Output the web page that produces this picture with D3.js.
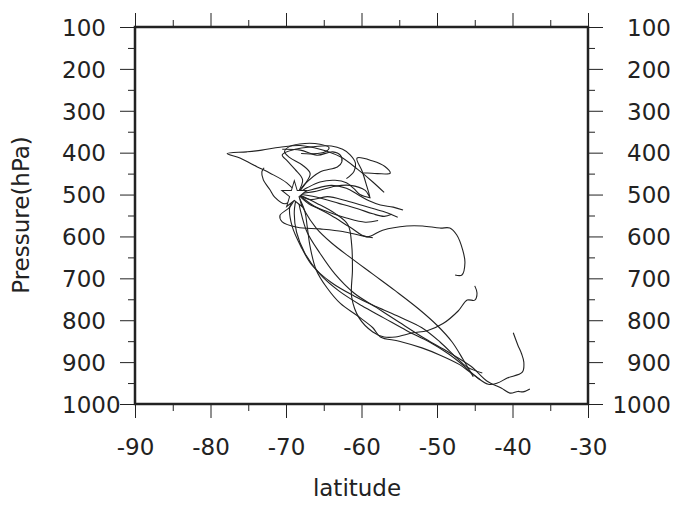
<!DOCTYPE html>
<html lang="en">
<head>
    <meta charset="UTF-8">
    <title>Trajectories</title>
    <script src="https://d3js.org/d3.v7.min.js"></script>
    <style>
        body {
            margin: 0;
            padding: 0;
            background: #fff;
        }
        svg {
            display: block;
            font-family: 'DejaVu Sans', sans-serif;
        }
        .traj {
            fill: none;
            stroke: #222;
            stroke-width: 1.1px;
        }
        .axis path, .axis line {
            stroke: #222;
        }
        .axis text {
            font-family: 'DejaVu Sans', sans-serif;
            font-size: 23px;
            fill: #222;
        }
    </style>
</head>
<body>
<svg width="677" height="505"></svg>
<script>
    // ticks
    var latTicks = [-90, -80, -70, -60, -50, -40, -30];
    var presTicks = [100, 200, 300, 400, 500, 600, 700, 800, 900, 1000];

    // start point (star)
    var origin = [-68.9, 501];

    // trajectories, [latitude, pressure] pairs
    var traj01 = [[-68.5,498],[-68.1,537],[-67.2,590],[-65.5,640],[-63.5,690],[-61,735],[-58,770],[-55,805],[-51.5,845],[-48.5,876],[-45.5,910],[-43.4,945],[-41.5,962],[-40.3,974],[-39.3,970],[-38.6,971],[-37.7,964]];
    var traj02 = [[-68.5,498],[-68.9,540],[-68.6,590],[-67.5,640],[-65.5,690],[-63,730],[-60,765],[-57,795],[-54,825],[-51,852],[-48.5,880],[-46.5,908],[-45,932],[-43.2,953],[-42,950],[-40.7,938],[-38.7,924],[-38.5,900],[-38.8,880],[-39.3,859],[-39.9,830]];
    var traj03 = [[-68.5,498],[-69.5,530],[-69.2,575],[-68,625],[-66.5,670],[-64,710],[-61,742],[-58,768],[-55,792],[-52,818],[-49.6,852],[-47.4,890],[-46,912],[-44,926]];
    var traj04 = [[-68.5,498],[-67.5,540],[-66,580],[-64,615],[-61.5,650],[-58.5,690],[-55.5,730],[-52.5,772],[-50,812],[-48,852],[-46.5,895],[-45.2,935]];
    var traj05 = [[-68.5,498],[-66,520],[-63.5,545],[-61.8,572],[-61.3,620],[-61.2,680],[-61.3,745],[-60.3,795],[-58.5,828],[-57,840],[-55.5,840],[-53.2,830],[-51.3,825],[-49.2,808],[-47.2,778],[-46,752],[-45,752],[-44.7,735],[-45,718]];
    var traj06 = [[-68.5,498],[-66.5,525],[-64,550],[-61.5,578],[-59.3,601],[-57.2,585],[-54,575],[-51.9,575],[-49.6,580],[-48.3,580],[-47.4,596],[-46.6,632],[-46.3,663],[-46.7,692],[-47.6,692]];
    var traj07 = [[-68.5,498],[-67.5,540],[-67.2,575],[-66.8,625],[-66,680],[-64.6,722],[-62.8,760],[-60.5,790],[-58.5,818],[-57.5,840],[-55,850],[-52,866],[-49.5,884],[-47,906],[-45.5,926],[-44.3,942]];
    var traj08 = [[-68.5,498],[-69.9,472],[-72.1,449],[-73.8,434],[-76.1,413],[-77.8,402],[-75.2,398],[-73.2,394],[-70.8,387],[-68.1,383],[-65.5,392],[-62.8,410],[-60.5,440],[-58.5,470],[-57,495]];
    var traj09 = [[-68.5,498],[-67.5,475],[-66.8,450],[-67.8,430],[-69.5,412],[-70.2,398],[-69.5,385],[-67.5,378],[-65.5,380],[-64.3,388],[-64.8,398],[-66.5,403],[-68,402]];
    var traj10 = [[-68.5,498],[-66,492],[-63.5,480],[-61.5,478],[-59.5,490],[-58.9,506],[-59.3,480],[-59.9,445],[-60.6,413],[-58.5,420],[-56.9,433],[-56.2,449],[-57.9,450],[-59.8,448]];
    var traj11 = [[-68.5,498],[-66.8,512],[-64.5,505],[-62,515],[-59.5,528],[-57.2,540],[-55.2,554]];
    var traj12 = [[-68.5,498],[-67.5,475],[-65.5,446],[-63.2,434],[-62.6,422],[-62.8,406],[-63.8,398],[-65.9,406],[-68.1,394],[-70.5,392]];
    var traj13 = [[-68.5,498],[-70.1,522],[-71.5,506],[-72.1,489],[-73,465],[-73.2,446],[-72.9,436]];
    var traj14 = [[-68.5,498],[-69.5,530],[-70.8,550],[-70.5,565],[-68.5,578],[-65.5,582],[-62.5,588],[-60,598],[-58.5,603]];
    var traj15 = [[-68.5,498],[-66.5,488],[-64,478],[-62,485],[-60.5,500],[-59,515],[-57.5,525],[-55.8,530],[-54.5,537]];
    var traj16 = [[-68.5,498],[-67.8,465],[-68.8,440],[-69.8,420],[-70.5,405],[-68.8,392],[-66.5,386],[-64,384],[-62.5,392],[-61.5,405],[-60.8,425],[-61,445],[-62,462]];
    var traj17 = [[-68.5,498],[-66,506],[-63,521],[-60.5,534],[-58.5,546],[-57,552],[-56,547]];
    var traj18 = [[-68.5,498],[-67,522],[-64.5,541],[-62,556],[-59.5,566],[-57.8,562]];
    var traj19 = [[-68.5,498],[-67.2,484],[-65.5,470],[-63.5,466],[-62,472],[-61,486],[-60.2,500],[-58.8,508]];

    var trajectories = [traj01, traj02, traj03, traj04, traj05, traj06, traj07, traj08, traj09, traj10,
        traj11, traj12, traj13, traj14, traj15, traj16, traj17, traj18, traj19];

    var svg = d3.select("svg");
    var plotL = 135, plotR = 588, plotT = 27, plotB = 404;

    var x = d3.scaleLinear().domain([-90, -30]).range([plotL, plotR]);
    var y = d3.scaleLinear().domain([100, 1000]).range([plotT, plotB]);

    var line = d3.line()
        .x(function(d) { return x(d[0]); })
        .y(function(d) { return y(d[1]); })
        .curve(d3.curveCatmullRom.alpha(0.5));

    svg.append("g").selectAll("path")
        .data(trajectories)
        .enter().append("path")
        .attr("class", "traj")
        .attr("d", line);

    // star at the start point
    var star = d3.symbol().type(d3.symbolStar).size(190);
    svg.append("path")
        .attr("d", star)
        .attr("transform", "translate(" + x(origin[0]) + "," + y(origin[1]) + ") scale(1,1.1)")
        .attr("fill", "#fff")
        .attr("stroke", "#222")
        .attr("stroke-width", 1);

    // minor ticks on all four sides
    var latMinor = d3.range(-85, -30, 10);
    var presMinor = d3.range(150, 1000, 100);

    function minor(axis, g) {
        g.call(axis.tickSize(7).tickFormat(""));
        g.select(".domain").remove();
    }
    minor(d3.axisBottom(x).tickValues(latMinor), svg.append("g").attr("class", "axis").attr("transform", "translate(0," + plotB + ")"));
    minor(d3.axisTop(x).tickValues(latMinor), svg.append("g").attr("class", "axis").attr("transform", "translate(0," + plotT + ")"));
    minor(d3.axisLeft(y).tickValues(presMinor), svg.append("g").attr("class", "axis").attr("transform", "translate(" + plotL + ",0)"));
    minor(d3.axisRight(y).tickValues(presMinor), svg.append("g").attr("class", "axis").attr("transform", "translate(" + plotR + ",0)"));

    // major ticks, labels use a plain hyphen
    var fmt = function(d) { return String(d); };

    var gb = svg.append("g").attr("class", "axis").attr("transform", "translate(0," + plotB + ")")
        .call(d3.axisBottom(x).tickValues(latTicks).tickSize(14).tickSizeOuter(0).tickFormat(fmt));
    gb.selectAll("text").attr("y", 51).attr("dy", 0);

    svg.append("g").attr("class", "axis").attr("transform", "translate(0," + plotT + ")")
        .call(d3.axisTop(x).tickValues(latTicks).tickSize(14).tickSizeOuter(0).tickFormat(""));

    var gl = svg.append("g").attr("class", "axis").attr("transform", "translate(" + plotL + ",0)")
        .call(d3.axisLeft(y).tickValues(presTicks).tickSize(15).tickSizeOuter(0).tickFormat(fmt));
    gl.selectAll("text").attr("x", 62 - plotL).style("text-anchor", "start").attr("dy", "0.36em");

    var gr = svg.append("g").attr("class", "axis").attr("transform", "translate(" + plotR + ",0)")
        .call(d3.axisRight(y).tickValues(presTicks).tickSize(15).tickSizeOuter(0).tickFormat(fmt));
    gr.selectAll("text").attr("x", 671 - plotR).style("text-anchor", "end").attr("dy", "0.36em");

    svg.selectAll(".axis .domain").remove();

    // frame
    svg.append("rect")
        .attr("x", plotL).attr("y", plotT)
        .attr("width", plotR - plotL).attr("height", plotB - plotT)
        .attr("fill", "none")
        .attr("stroke", "#222")
        .attr("stroke-width", 2.5);

    // axis titles
    svg.append("text")
        .attr("x", 357).attr("y", 496)
        .attr("text-anchor", "middle")
        .attr("font-size", 23)
        .attr("fill", "#222")
        .text("latitude");

    svg.append("text")
        .attr("transform", "translate(29,215) rotate(-90)")
        .attr("text-anchor", "middle")
        .attr("font-size", 23)
        .attr("fill", "#222")
        .text("Pressure(hPa)");
</script>
</body>
</html>
